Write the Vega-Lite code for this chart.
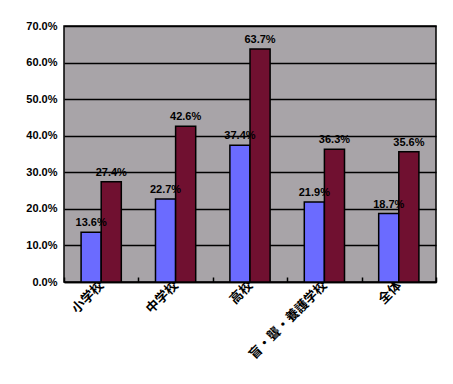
{
  "$schema": "https://vega.github.io/schema/vega-lite/v6.json",
  "width": 372,
  "height": 256,
  "padding": {"left": 64, "top": 26, "right": 17, "bottom": 102},
  "autosize": {"type": "none"},
  "background": "white",
  "config": {
    "view": {"fill": "#a8a4a8", "stroke": "black", "strokeWidth": 1.5},
    "font": "Liberation Sans"
  },
  "data": {
    "values": [
      {"category": "小学校", "series": "A", "value": 0.136},
      {"category": "小学校", "series": "B", "value": 0.274},
      {"category": "中学校", "series": "A", "value": 0.227},
      {"category": "中学校", "series": "B", "value": 0.426},
      {"category": "高校", "series": "A", "value": 0.374},
      {"category": "高校", "series": "B", "value": 0.637},
      {"category": "盲・聾・養護学校", "series": "A", "value": 0.219},
      {"category": "盲・聾・養護学校", "series": "B", "value": 0.363},
      {"category": "全体", "series": "A", "value": 0.187},
      {"category": "全体", "series": "B", "value": 0.356}
    ]
  },
  "encoding": {
    "x": {
      "field": "category", "type": "nominal", "sort": null,
      "scale": {"paddingInner": 0, "paddingOuter": 0},
      "axis": {
        "title": null, "labelAngle": -45, "labelAlign": "right", "labelBaseline": "middle",
        "labelFont": "Noto Sans CJK JP", "labelFontSize": 13, "labelFontWeight": "bold",
        "labelColor": "black", "labelPadding": 6, "labelLimit": 300,
        "ticks": true, "tickBand": "extent", "tickSize": -5, "tickColor": "black", "tickWidth": 1.5,
        "domainColor": "black", "domainWidth": 1.5
      }
    },
    "xOffset": {"field": "series", "type": "nominal", "scale": {"paddingInner": 0, "paddingOuter": 0.85}},
    "y": {
      "field": "value", "type": "quantitative",
      "scale": {"domain": [0, 0.7], "nice": false},
      "axis": {
        "title": null, "format": ".1%", "values": [0, 0.1, 0.2, 0.3, 0.4, 0.5, 0.6, 0.7],
        "grid": true, "gridColor": "black", "gridWidth": 1.5, "gridOpacity": 1,
        "ticks": false, "domain": false, "labelPadding": 7,
        "labelFontSize": 11, "labelFontWeight": "bold", "labelColor": "black"
      }
    }
  },
  "layer": [
    {
      "mark": {"type": "bar", "stroke": "black", "strokeWidth": 1.5},
      "encoding": {
        "color": {
          "field": "series", "type": "nominal",
          "scale": {"domain": ["A", "B"], "range": ["#6b6bff", "#701030"]},
          "legend": null
        }
      }
    },
    {
      "mark": {"type": "text", "baseline": "bottom", "dy": -4, "fontSize": 11, "fontWeight": "bold", "color": "black"},
      "encoding": {"text": {"field": "value", "format": ".1%"}}
    }
  ]
}
